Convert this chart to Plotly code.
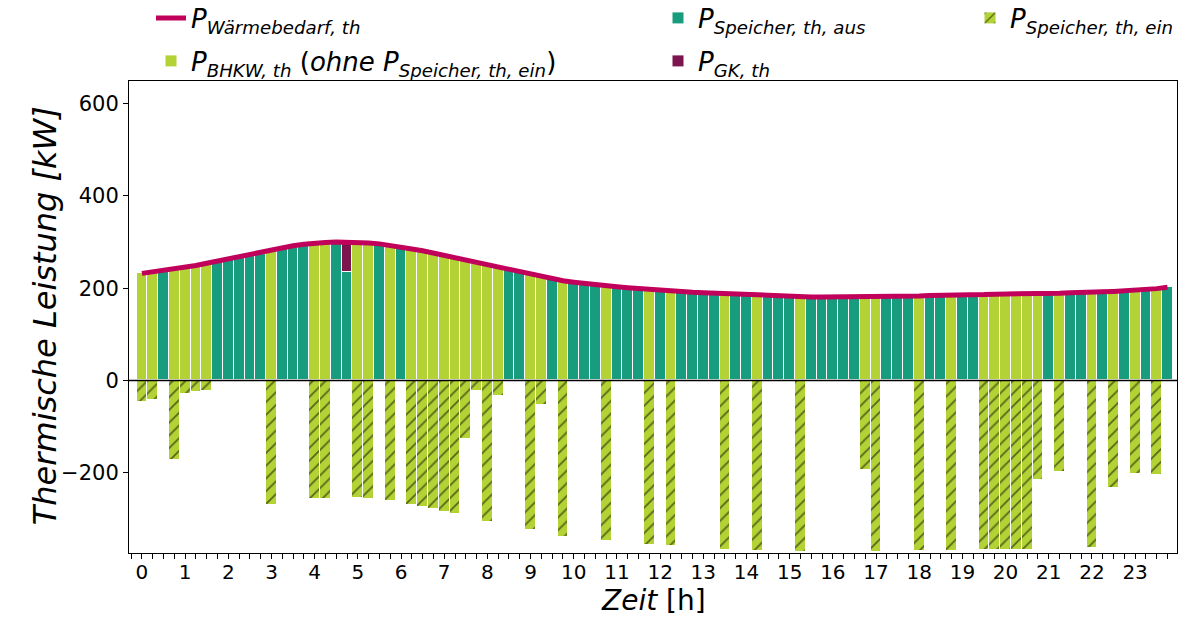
import plotly.graph_objects as go

# Zeit in Stunden (15-min Raster)
zeit = [i * 0.25 for i in range(96)]

# Wärmebedarf (kW)
waermebedarf = [
    232, 235, 238, 241, 245, 249, 254, 259, 264, 269, 274, 278,
    283, 288, 292, 295, 298, 299, 300, 300, 299, 298, 296, 293,
    289, 285, 281, 276, 271, 266, 261, 255, 250, 245, 240, 235,
    229, 224, 220, 216, 213, 210, 208, 205, 203, 201, 199, 198,
    196, 194, 193, 191, 190, 189, 188, 186, 185, 184, 183, 182,
    182, 181, 181, 181, 181, 181, 181, 181, 181, 182, 182, 183,
    183, 184, 184, 185, 185, 186, 186, 187, 187, 188, 188, 188,
    189, 189, 190, 190, 191, 192, 193, 194, 195, 196, 199, 202,
]

# Deckung: B = BHKW, S = Speicher (Entladung)
deckung = list(
    "BBSBBBBSSSSS"
    "BSSSBBSSBBSB"
    "SBBBBBBBBBSS"
    "BBSBSSSBSSSB"
    "SBSSSSBSSBSS"
    "SBSSSSSBBSSS"
    "BSSBSSBBBBBB"
    "SBSSBSBSBSBS"
)

# Gaskessel (kW)
gk = [0] * 96
gk[19] = 65

# Speicher-Beladung (kW, negativ)
speicher_ein = [
    -46, -43, 0, -172, -30, -25, -22, 0, 0, 0, 0, 0,
    -270, 0, 0, 0, -257, -256, 0, 0, -255, -257, 0, -262,
    0, -270, -275, -279, -285, -290, -126, -22, -306, -33, 0, 0,
    -324, -53, 0, -339, 0, 0, 0, -348, 0, 0, 0, -357,
    0, -359, 0, 0, 0, 0, -367, 0, 0, -370, 0, 0,
    0, -371, 0, 0, 0, 0, 0, -194, -371, 0, 0, 0,
    -370, 0, 0, -369, 0, 0, -367, -367, -367, -367, -367, -216,
    0, -198, 0, 0, -363, 0, -234, 0, -203, 0, -205, 0,
]

C_LINE = "#c0005a"
C_BHKW = "#b2d235"
C_SP = "#179c7d"
C_GK = "#7c154d"

bhkw = [w if d == "B" else None for w, d in zip(waermebedarf, deckung)]
sp_aus = [(w - g) if d == "S" else None for w, d, g in zip(waermebedarf, deckung, gk)]
gk_v = [g if g else None for g in gk]
sp_ein = [v if v else None for v in speicher_ein]

FONT = "DejaVu Sans"
fig = go.Figure()

fig.add_trace(go.Scatter(
    x=zeit, y=waermebedarf, mode="lines",
    line=dict(color=C_LINE, width=5),
    name="<i>P<sub>Wärmebedarf, th</sub></i>", legend="legend", showlegend=True,
))
fig.add_trace(go.Bar(
    x=zeit, y=bhkw, width=0.25,
    marker=dict(color=C_BHKW, line=dict(color="white", width=1)),
    name="<i>P<sub>BHKW, th</sub></i> (<i>ohne P<sub>Speicher, th, ein</sub></i>)",
    legend="legend4",
))
fig.add_trace(go.Bar(
    x=zeit, y=sp_aus, width=0.25,
    marker=dict(color=C_SP, line=dict(color="white", width=1)),
    name="<i>P<sub>Speicher, th, aus</sub></i>", legend="legend2",
))
fig.add_trace(go.Bar(
    x=zeit, y=gk_v, width=0.25,
    marker=dict(color=C_GK, line=dict(color="white", width=1)),
    name="<i>P<sub>GK, th</sub></i>", legend="legend5",
))
fig.add_trace(go.Bar(
    x=zeit, y=sp_ein, width=0.25,
    marker=dict(color=C_BHKW, line=dict(color="white", width=1),
                pattern=dict(shape="/", fgcolor="black", bgcolor=C_BHKW,
                             size=9, solidity=0.2)),
    name="<i>P<sub>Speicher, th, ein</sub></i>", legend="legend3",
))

fig.add_hline(y=0, line=dict(color="black", width=1.5), layer="above")

W, H = 1188, 618
def leg(px, py):
    return dict(xref="container", yref="container", x=px / W, y=1 - py / H,
                xanchor="left", yanchor="middle", bgcolor="rgba(0,0,0,0)",
                font=dict(family=FONT, size=26, color="black"), itemwidth=30,
                visible=True)

fig.update_layout(
    width=W, height=H,
    margin=dict(l=129, r=11, t=81, b=65, autoexpand=False),
    paper_bgcolor="white", plot_bgcolor="white",
    barmode="relative", bargap=0, showlegend=True,
    font=dict(family=FONT, size=21, color="black"),
    legend=leg(151, 18),
    legend2=leg(658, 18),
    legend3=leg(970, 18),
    legend4=leg(151, 61),
    legend5=leg(658, 61),
    xaxis=dict(
        range=[-0.3, 23.97], tickmode="array", tickvals=list(range(24)),
        ticks="outside", ticklen=5, tickcolor="black",
        minor=dict(dtick=0.25, ticks="outside", ticklen=5, tickcolor="black"),
        showline=True, linecolor="black", linewidth=1, mirror=True,
        showgrid=False, zeroline=False, automargin=False,
        tickfont=dict(family=FONT, size=20), ticklabelstandoff=-4,
    ),
    yaxis=dict(
        range=[-374, 649], tickvals=[-200, 0, 200, 400, 600],
        ticks="outside", ticklen=5, tickcolor="black",
        showline=True, linecolor="black", linewidth=1, mirror=True,
        showgrid=False, zeroline=False, automargin=False,
        tickfont=dict(family=FONT, size=21),
    ),
    annotations=[
        dict(text="<i>Thermische Leistung [kW]</i>", xref="paper", yref="paper",
             x=-0.080, y=0.502, xanchor="center", yanchor="middle", textangle=-90,
             showarrow=False, font=dict(family=FONT, size=32, color="black")),
        dict(text="<i>Zeit</i> [h]", xref="paper", yref="paper",
             x=0.5, y=-0.100, xanchor="center", yanchor="middle",
             showarrow=False, font=dict(family=FONT, size=28, color="black")),
    ],
)

fig.write_html("out.html")
